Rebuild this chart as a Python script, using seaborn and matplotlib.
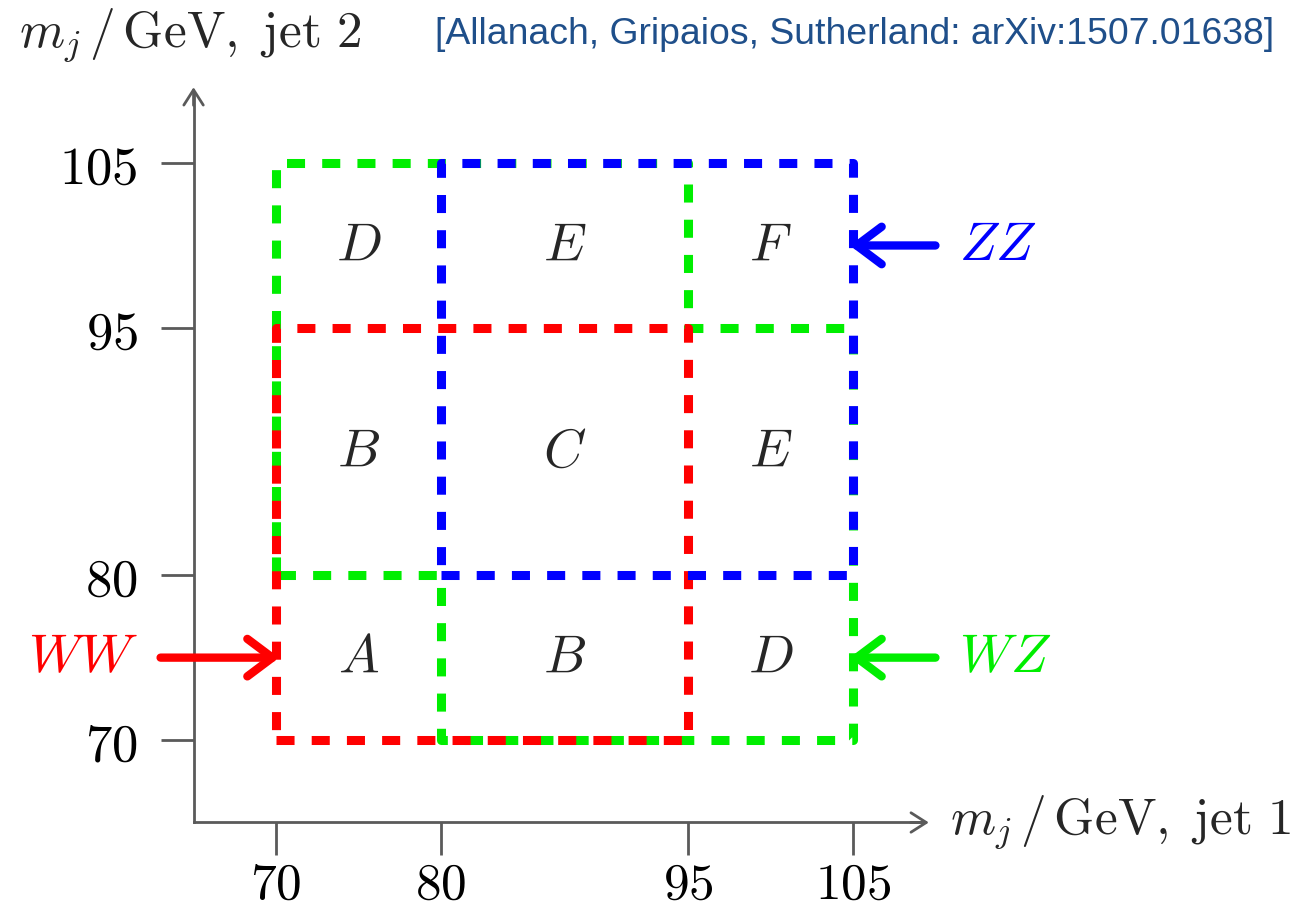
import matplotlib
matplotlib.use("Agg")
import matplotlib.pyplot as plt
import seaborn as sns
import pandas as pd

# ---- data ----
tick_values = [70, 80, 95, 105]
tick_labels = ["70", "80", "95", "105"]

# region outlines (polygon vertices)
ww_x = [70, 95, 95, 70, 70]
ww_y = [70, 70, 95, 95, 70]
wz_x = [70, 70, 95, 95, 105, 105, 80, 80, 70]
wz_y = [80, 105, 105, 95, 95, 70, 70, 80, 80]
zz_x = [80, 105, 105, 80, 80]
zz_y = [80, 80, 105, 105, 80]

cell_labels = ["D", "E", "F", "B", "C", "E", "A", "B", "D"]
cell_x = [75, 87.5, 100, 75, 87.5, 100, 75, 87.5, 100]
cell_y = [100, 100, 100, 87.5, 87.5, 87.5, 75, 75, 75]

RED, GREEN, BLUE = "#ff0000", "#00ee00", "#0000ff"

sns.set_theme(style="white")
plt.rcParams["mathtext.fontset"] = "cm"
plt.rcParams["font.family"] = ["DejaVu Sans"]

fig = plt.figure(figsize=(13.12, 9.13), dpi=100)
ax = fig.add_axes([0, 0, 1, 1])
ax.set_facecolor("white")
ax.set_xlim(53.26, 132.84)
ax.set_ylim(59.51, 114.89)

dash = (0, (2.0, 1.9))
lw = 6.5
for xs, ys, c in [(wz_x, wz_y, GREEN), (ww_x, ww_y, RED), (zz_x, zz_y, BLUE)]:
    df = pd.DataFrame({"x": xs, "y": ys})
    sns.lineplot(data=df, x="x", y="y", sort=False, estimator=None, ax=ax,
                 color=c, lw=lw, linestyle=dash, zorder=3)

# axes with spines at 65
axcol = "#5a5a5a"
for s in ["top", "right"]:
    ax.spines[s].set_visible(False)
ax.spines["left"].set_position(("data", 65))
ax.spines["bottom"].set_position(("data", 65))
ax.spines["left"].set_bounds(65, 109.2)
ax.spines["bottom"].set_bounds(65, 109.2)
for s in ["left", "bottom"]:
    ax.spines[s].set_color(axcol)
    ax.spines[s].set_linewidth(2)
ax.set_xticks(tick_values)
ax.set_yticks(tick_values)
ax.set_xticklabels([f"${t}$" for t in tick_labels])
ax.set_yticklabels([f"${t}$" for t in tick_labels])
ax.tick_params(axis="both", direction="out", length=24, width=2, color=axcol,
               labelsize=38, labelcolor="black", bottom=True, left=True)
ax.tick_params(axis="x", pad=3, labelsize=37)
ax.tick_params(axis="y", pad=16)
ax.set_xlabel("")
ax.set_ylabel("")

# axis arrowheads
arr_ax = dict(arrowstyle="->,head_length=0.55,head_width=0.35", lw=2, color=axcol,
              shrinkA=0, shrinkB=0, mutation_scale=20)
ax.annotate("", xy=(109.6, 65), xytext=(108.5, 65), arrowprops=arr_ax)
ax.annotate("", xy=(65, 109.6), xytext=(65, 108.5), arrowprops=arr_ax)

ax.text(110.9, 65, r"$m_j\,/\,\mathrm{GeV},\ \mathrm{jet}\ 1$", fontsize=37,
        ha="left", va="center")
ax.text(54.4, 112.7, r"$m_j\,/\,\mathrm{GeV},\ \mathrm{jet}\ 2$", fontsize=37,
        ha="left", va="center")

for lab, x, y in zip(cell_labels, cell_x, cell_y):
    ax.text(x, y, f"${lab}$", fontsize=39, ha="center", va="center", zorder=4)

def carrow(x0, x1, y, c):
    ax.annotate("", xy=(x1, y), xytext=(x0, y),
                arrowprops=dict(arrowstyle="->,head_length=0.6,head_width=0.45",
                                lw=6, color=c, shrinkA=0, shrinkB=0,
                                mutation_scale=30), zorder=5)

carrow(63.0, 70.2, 75, RED)
carrow(110.0, 104.8, 75, GREEN)
carrow(110.0, 104.8, 100, BLUE)
ax.text(61.6, 75, r"$WW$", color=RED, fontsize=39, ha="right", va="center")
ax.text(111.4, 75, r"$WZ$", color=GREEN, fontsize=39, ha="left", va="center")
ax.text(111.4, 100, r"$ZZ$", color=BLUE, fontsize=39, ha="left", va="center")

fig.text(0.3316, 0.9617, "[Allanach, Gripaios, Sutherland: arXiv:1507.01638]",
         family=["Liberation Sans"], fontsize=26.9,
         color="#1f4f8a", ha="left", va="center")

fig.savefig("out.png", dpi=100, facecolor="white")
